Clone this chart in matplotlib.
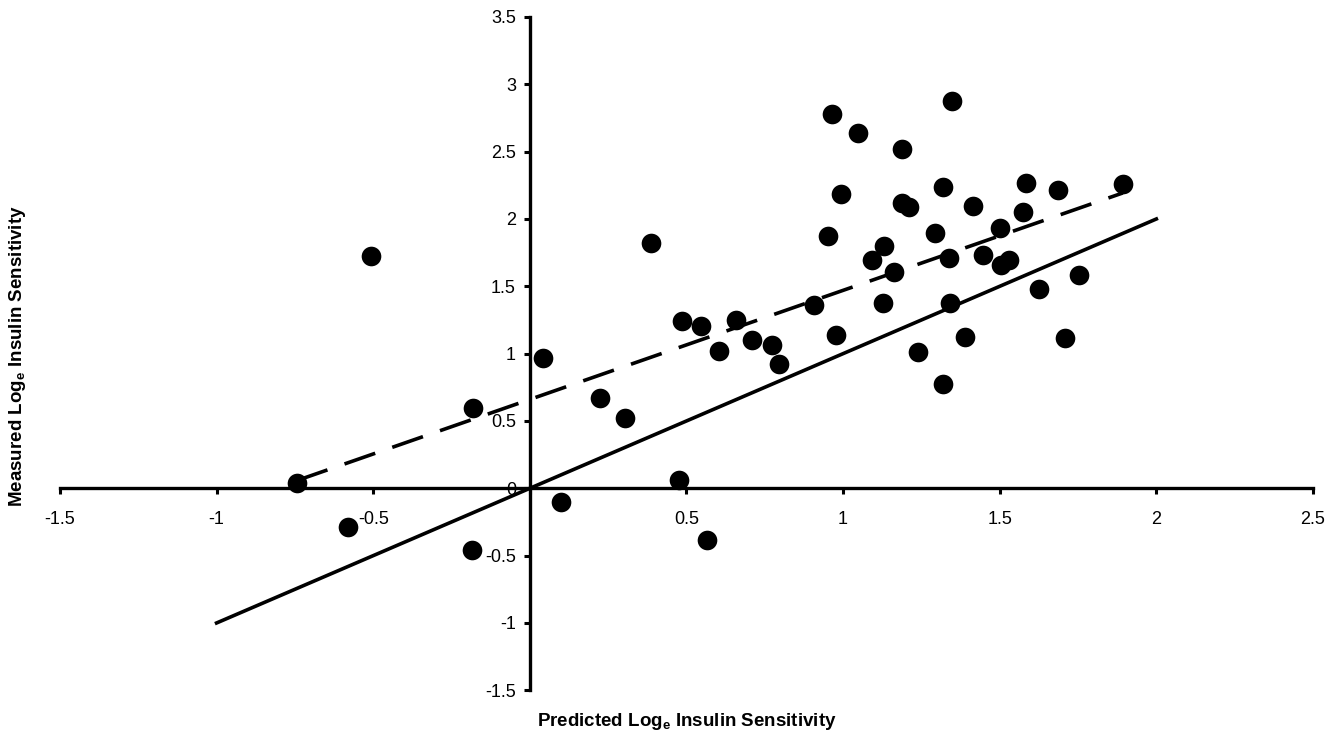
# grafico de sensibilidad a la insulina: medida vs predicha
import matplotlib
matplotlib.use('Agg')
import matplotlib.pyplot as plt
from matplotlib.ticker import FuncFormatter, MultipleLocator
import numpy as np

plt.rcParams['font.family'] = ['Liberation Sans', 'DejaVu Sans']
plt.rcParams['mathtext.fontset'] = 'custom'
plt.rcParams['mathtext.rm'] = 'Liberation Sans'
plt.rcParams['mathtext.bf'] = 'Liberation Sans:bold'

predicho = [-0.744, -0.580, -0.508, -0.183, -0.186, 0.042, 0.099, 0.225, 0.303, 0.388,
            0.475, 0.487, 0.548, 0.565, 0.604, 0.659, 0.710, 0.773, 0.794, 0.907,
            0.952, 0.964, 0.976, 0.994, 1.048, 1.092, 1.129, 1.132, 1.161, 1.189,
            1.189, 1.212, 1.239, 1.294, 1.318, 1.318, 1.338, 1.342, 1.348, 1.388,
            1.414, 1.446, 1.502, 1.505, 1.531, 1.573, 1.584, 1.625, 1.686, 1.710,
            1.754, 1.893]
medido = [0.037, -0.290, 1.727, 0.594, -0.458, 0.965, -0.099, 0.668, 0.524, 1.819,
          0.062, 1.242, 1.207, -0.384, 1.022, 1.249, 1.101, 1.064, 0.923, 1.361,
          1.876, 2.777, 1.138, 2.185, 2.635, 1.695, 1.378, 1.799, 1.608, 2.519,
          2.116, 2.090, 1.010, 1.893, 2.239, 0.778, 1.707, 1.373, 2.875, 1.126,
          2.096, 1.732, 1.935, 1.658, 1.695, 2.049, 2.269, 1.480, 2.215, 1.114,
          1.584, 2.259]

# linea de identidad y recta de regresion
identidad_x = [-1, 2]
ajuste_intercepto = 0.66
ajuste_pendiente = 0.81

fig = plt.figure(figsize=(13.41, 7.35), dpi=100)
ax = fig.add_axes([0.0447, 0.0608, 0.9344, 0.9161])

ax.scatter(predicho, medido, s=200, color='black', zorder=4, linewidths=0)
ax.plot(identidad_x, identidad_x, color='black', lw=2.6, zorder=3)
xs = np.array([min(predicho), max(predicho)])
ax.plot(xs, ajuste_intercepto + ajuste_pendiente * xs, color='black', lw=2.6,
        dashes=(9, 5), zorder=3)

ax.set_xlim(-1.5, 2.5)
ax.set_ylim(-1.5, 3.5)
ax.xaxis.set_major_locator(MultipleLocator(0.5))
ax.yaxis.set_major_locator(MultipleLocator(0.5))
ax.xaxis.set_major_formatter(FuncFormatter(lambda v, p: '' if abs(v) < 1e-9 else f'{v:g}'))
ax.yaxis.set_major_formatter(FuncFormatter(lambda v, p: f'{v:g}'))

for lado in ['top', 'right']:
    ax.spines[lado].set_visible(False)
for lado in ['left', 'bottom']:
    ax.spines[lado].set_position(('data', 0))
    ax.spines[lado].set_linewidth(2.4)
    ax.spines[lado].set_zorder(2)

ax.tick_params(axis='both', direction='out', length=4, width=2.2, labelsize=13)
ax.tick_params(axis='x', pad=12)
ax.tick_params(axis='y', pad=6)

fig.text(0.512, 0.019, r'Predicted Log$_\mathbf{e}$ Insulin Sensitivity',
         ha='center', va='center', fontsize=13.5, fontweight='bold')
fig.text(0.0127, 0.516, r'Measured Log$_\mathbf{e}$ Insulin Sensitivity',
         ha='center', va='center', rotation=90, fontsize=13.5, fontweight='bold')

fig.savefig('out.png', dpi=100)
